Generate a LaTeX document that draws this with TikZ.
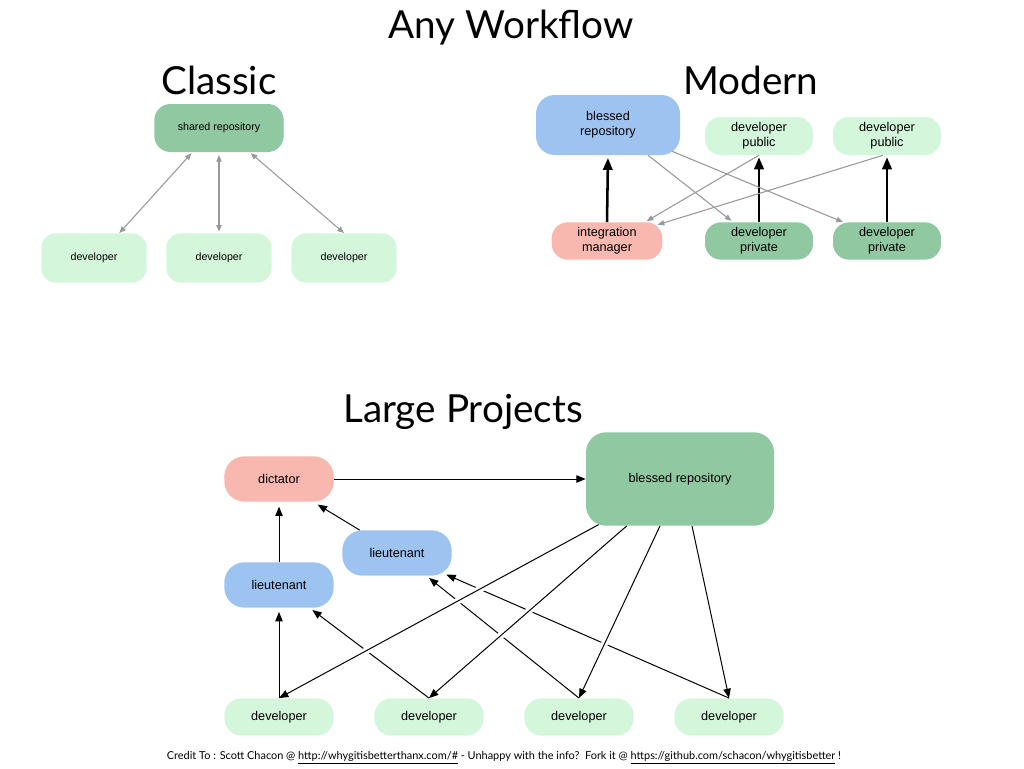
\documentclass[tikz,border=0pt]{standalone}
\usepackage{fontspec}
\setmainfont{Lato}
\newfontfamily\helv{Liberation Sans}
\usetikzlibrary{arrows.meta}

\definecolor{repogreen}{HTML}{8FC8A1}
\definecolor{devgreen}{HTML}{D4F7DC}
\definecolor{blessblue}{HTML}{9DC3F1}
\definecolor{bosspink}{HTML}{F8B7AF}
\definecolor{linegray}{HTML}{999999}

\begin{document}
\begin{tikzpicture}[x=0.75pt,y=-0.75pt,
  heading/.style={font=\fontsize{29}{32}\selectfont,anchor=base},
  box/.style={rounded corners=12pt,align=center,inner sep=0pt,font=\helv\fontsize{9.5}{11}\selectfont},
  repo/.style={box,fill=repogreen},
  dev/.style={box,fill=devgreen},
  bless/.style={box,fill=blessblue},
  boss/.style={box,fill=bosspink},
  small/.style={font=\helv\fontsize{8}{9.5}\selectfont},
  grayarr/.style={draw=linegray,line width=0.8pt,-{Triangle[length=5pt,width=4pt]}},
  grayboth/.style={draw=linegray,line width=0.8pt,{Triangle[length=5pt,width=4pt]}-{Triangle[length=5pt,width=4pt]}},
  fatarr/.style={line width=1.9pt,-{Triangle[length=9pt,width=7pt]}},
  thinarr/.style={line width=0.75pt,-{Triangle[length=7pt,width=5.5pt]}},
  over/.style={preaction={draw=white,line width=5pt,-,shorten <=6pt,shorten >=14pt}}]
\useasboundingbox (0,0) rectangle (1024,768);

\node[heading] (any) at (511,38) {Any Workflow};
\node[heading] (classic) at (219,94) {Classic};
\node[heading] (modern) at (751,94) {Modern};
\node[heading] (large) at (463,422) {Large Projects};

% classic
\node[repo,small,minimum width=97pt,minimum height=36pt] (shared) at (219,128) {shared repository};
\foreach \i/\x in {1/94,2/219,3/344}
  \node[dev,small,minimum width=79pt,minimum height=37pt,rounded corners=11pt] (cdev\i) at (\x,258) {developer};
\draw[grayboth,shorten <=1pt] ([xshift=-20pt]shared.south) -- ([xshift=19pt]cdev1.north);
\draw[grayboth,shorten >=1pt,shorten <=2pt] (shared.south) -- (cdev2.north);
\draw[grayboth,shorten <=1pt] ([xshift=23pt]shared.south) -- (cdev3.north);

% modern
\node[bless,minimum width=108pt,minimum height=45pt,rounded corners=14pt] (mbless) at (608,125) {blessed\\repository};
\node[dev,minimum width=81pt,minimum height=28.5pt] (pub1) at (759,136) {developer\\public};
\node[dev,minimum width=81pt,minimum height=28.5pt] (pub2) at (887,136) {developer\\public};
\node[boss,minimum width=83pt,minimum height=28pt] (integ) at (607,241) {integration\\manager};
\node[repo,minimum width=81pt,minimum height=28pt] (priv1) at (759,241) {developer\\private};
\node[repo,minimum width=81pt,minimum height=28pt] (priv2) at (887,241) {developer\\private};
\draw[fatarr,shorten >=2pt] (integ.north) -- (mbless.south);
\draw[fatarr,shorten >=1.5pt] (priv1.north) -- (pub1.south);
\draw[fatarr,shorten >=1.5pt] (priv2.north) -- (pub2.south);
\draw[grayarr,shorten >=1.5pt] ([xshift=30pt]mbless.south) -- ([xshift=-19.5pt]priv1.north);
\draw[grayarr] ([xshift=48pt,yshift=3pt]mbless.south) -- ([xshift=-33pt]priv2.north);
\draw[grayarr,shorten >=1.5pt] (pub1.south) -- ([xshift=28.5pt]integ.north);
\draw[grayarr] ([xshift=-3pt]pub2.south) -- ([xshift=38pt,yshift=-2pt]integ.north);

% large projects
\node[boss,minimum width=82pt,minimum height=34pt,rounded corners=15pt] (dict) at (279,479) {dictator};
\node[repo,minimum width=141pt,minimum height=70pt,rounded corners=15pt] (lbless) at (680,479) {blessed repository};
\node[bless,minimum width=82pt,minimum height=34pt,rounded corners=15pt] (lieut2) at (397,553) {lieutenant};
\node[bless,minimum width=82pt,minimum height=34pt,rounded corners=15pt] (lieut1) at (279,585) {lieutenant};
\foreach \i/\x in {1/279,2/429,3/579,4/729}
  \node[dev,minimum width=82pt,minimum height=28pt,rounded corners=13pt] (ldev\i) at (\x,717) {developer};
\draw[thinarr] (dict.east) -- (lbless.west);
\draw[thinarr,shorten >=3.5pt] (lieut1.north) -- (dict.south);
\draw[thinarr] ([xshift=-28pt]lieut2.north) -- ([xshift=29pt,yshift=-2pt]dict.south);
\draw[thinarr,shorten >=3pt] (ldev1.north) -- (lieut1.south);
\draw[thinarr] (ldev2.north) -- ([xshift=25pt,yshift=-1.5pt]lieut1.south);
\draw[thinarr] (ldev3.north) -- ([xshift=24pt,yshift=-1.5pt]lieut2.south);
\draw[thinarr] (ldev4.north) -- ([xshift=37pt,yshift=1pt]lieut2.south);
\draw[thinarr,over] ([xshift=-61pt,yshift=1pt]lbless.south) -- (ldev1.north);
\draw[thinarr,over] ([xshift=-40pt]lbless.south) -- (ldev2.north);
\draw[thinarr,over] ([xshift=-15pt]lbless.south) -- (ldev3.north);
\draw[thinarr,over] ([xshift=9pt]lbless.south) -- (ldev4.north);

\node[anchor=base,font=\fontsize{8.2}{10}\selectfont] (credit) at (504,759)
  {Credit To : Scott Chacon @ \underline{http://whygitisbetterthanx.com/\#} - Unhappy with the info?\ \ Fork it @ \underline{https://github.com/schacon/whygitisbetter} !};
\end{tikzpicture}
\end{document}
